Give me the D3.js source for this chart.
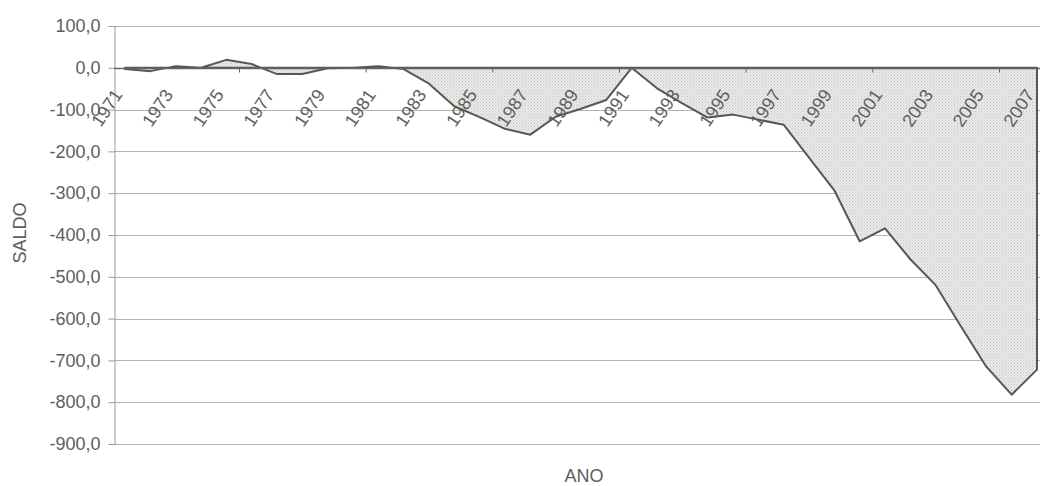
<!DOCTYPE html>
<html>
<head>
<meta charset="utf-8">
<script src="https://cdn.jsdelivr.net/npm/d3@7"></script>
<style>
  html, body { margin: 0; padding: 0; background: #fff; }
  svg { display: block; font-family: "Liberation Sans", Arial, sans-serif; }
</style>
</head>
<body>
<svg id="chart" width="1040" height="486"></svg>
<script>
const years = [1971,1972,1973,1974,1975,1976,1977,1978,1979,1980,1981,1982,1983,1984,1985,1986,1987,1988,1989,1990,1991,1992,1993,1994,1995,1996,1997,1998,1999,2000,2001,2002,2003,2004,2005,2006,2007];
const saldo = [-3,-8,4,0,19,9,-15,-15,-1,0,4,-3,-38,-92,-118,-146,-160,-117,-98,-77,0,-49,-85,-119,-112,-124,-136,-215,-293,-415,-384,-458,-520,-619,-715,-782,-722];
const yTicks = [100,0,-100,-200,-300,-400,-500,-600,-700,-800,-900];
const xLabelYears = [1971,1973,1975,1977,1979,1981,1983,1985,1987,1989,1991,1993,1995,1997,1999,2001,2003,2005,2007];
const xTickBoundaries = [1975.5,1980.5,1985.5,1990.5,1995.5,2000.5,2005.5];

(function () {
const svg = d3.select("#chart");
const plotLeft = 114, plotTop = 26, plotBottom = 444, plotRight = 1050;

const x = d3.scaleLinear().domain([1971, 2007]).range([125, 1037]);
const y = d3.scaleLinear().domain([-900, 100]).range([plotBottom, plotTop]);
const fmt = v => d3.format(".1f")(v).replace(".", ",").replace("−", "-");

// pattern fill
const defs = svg.append("defs");
const pat = defs.append("pattern").attr("id", "dots").attr("patternUnits", "userSpaceOnUse")
  .attr("width", 3).attr("height", 3);
pat.append("rect").attr("width", 3).attr("height", 3).attr("fill", "#e9e9e9");
pat.append("rect").attr("x", 0).attr("y", 0).attr("width", 1).attr("height", 1).attr("fill", "#c4c4c4");
pat.append("rect").attr("x", 1.5).attr("y", 1.5).attr("width", 1).attr("height", 1).attr("fill", "#d0d0d0");

// gridlines
svg.append("g").selectAll("line").data(yTicks).join("line")
  .attr("x1", plotLeft).attr("x2", plotRight)
  .attr("y1", d => Math.round(y(d)) + 0.5).attr("y2", d => Math.round(y(d)) + 0.5)
  .attr("stroke", "#b3b3b3").attr("stroke-width", 1);

// area
const data = years.map((yr, i) => ({ yr, v: saldo[i] }));
svg.append("path").datum(data)
  .attr("d", d3.area().x(d => x(d.yr)).y0(y(0)).y1(d => y(d.v)))
  .attr("fill", "url(#dots)")
  .attr("stroke", "#575757").attr("stroke-width", 2).attr("stroke-linejoin", "round");

// y axis
const yAxis = svg.append("g").attr("transform", `translate(${plotLeft + 0.5},0)`)
  .call(d3.axisLeft(y).tickValues(yTicks).tickFormat(fmt).tickSizeInner(6).tickSizeOuter(0).tickPadding(8));
yAxis.select(".domain").attr("stroke", "#9a9a9a");
yAxis.selectAll(".tick line").attr("stroke", "#9a9a9a");
yAxis.selectAll(".tick text").attr("fill", "#5e5e5e").attr("font-size", 18)
  .attr("font-family", "'Liberation Sans', Arial, sans-serif");

// zero category axis
const xAxis = svg.append("g").attr("transform", `translate(0,${Math.round(y(0)) + 0.5})`)
  .call(d3.axisBottom(x).tickValues(xTickBoundaries).tickFormat("").tickSizeInner(4).tickSizeOuter(0));
xAxis.select(".domain").attr("d", `M${plotLeft},0H${plotRight}`).attr("stroke", "#666").attr("stroke-width", 1.3);
xAxis.selectAll(".tick line").attr("stroke", "#666");

// rotated year labels
svg.append("g").selectAll("text").data(xLabelYears).join("text")
  .attr("transform", d => `translate(${x(d) - 18},108) rotate(-56)`)
  .attr("text-anchor", "middle").attr("dominant-baseline", "central")
  .attr("font-size", 18).attr("fill", "#5e5e5e")
  .text(d => d);

// axis titles
svg.append("text").attr("x", 584).attr("y", 476).attr("text-anchor", "middle")
  .attr("dominant-baseline", "central").attr("font-size", 18).attr("fill", "#5e5e5e").text("ANO");
svg.append("text").attr("transform", "translate(20,233) rotate(-90)").attr("text-anchor", "middle")
  .attr("dominant-baseline", "central").attr("font-size", 18).attr("fill", "#5e5e5e").text("SALDO");
})();
</script>
</body>
</html>
